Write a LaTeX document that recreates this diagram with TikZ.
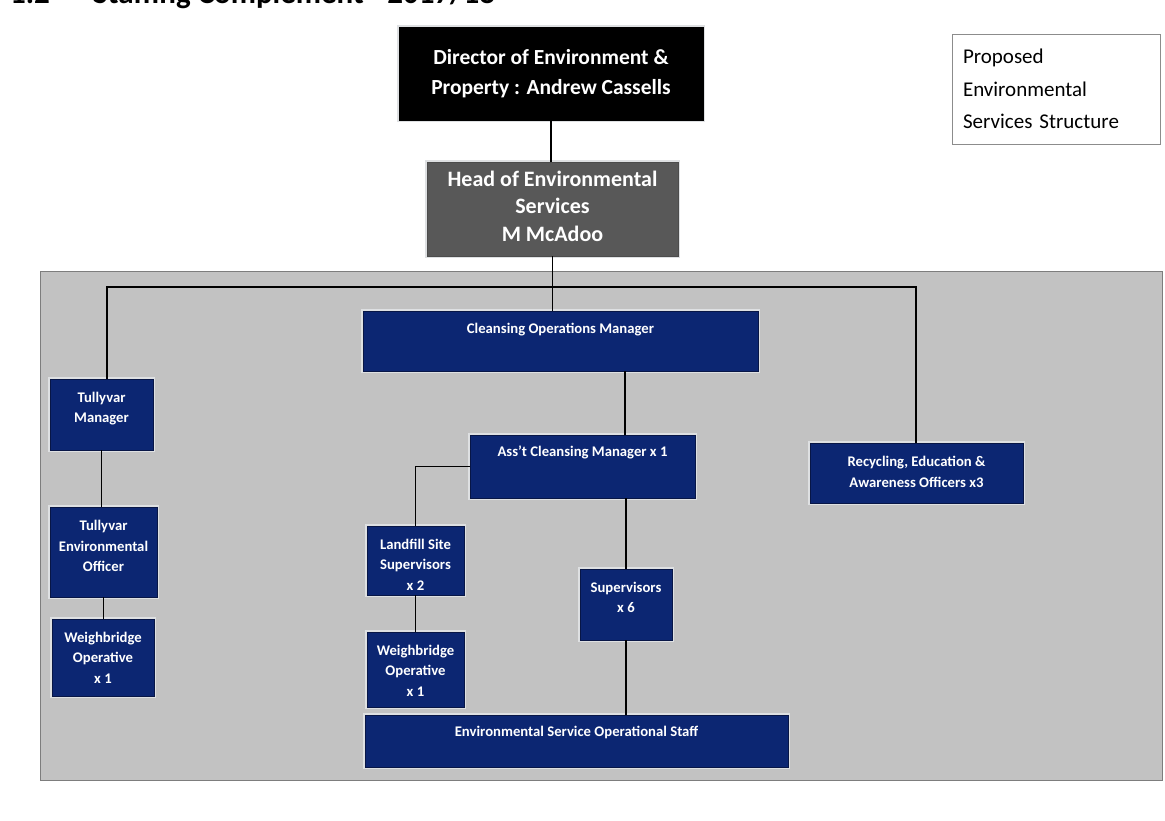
\documentclass[tikz,border=0pt]{standalone}
\usepackage{fontspec}
\setmainfont{Carlito}
\usetikzlibrary{calc}
\definecolor{navy}{RGB}{12,38,114}
\definecolor{navyedge}{RGB}{8,22,70}
\definecolor{panelgray}{RGB}{194,194,194}
\definecolor{paneledge}{RGB}{125,125,125}
\definecolor{headgray}{RGB}{88,88,88}
\definecolor{glow}{RGB}{222,224,226}
\begin{document}
\begin{tikzpicture}[x=1pt,y=-1pt,
  bluebox/.style={rectangle, fill=navy, draw=navyedge, line width=0.8pt, inner sep=0pt,
    preaction={draw=glow, line width=4pt}},
  boxtxt/.style={text=white, font=\bfseries\fontsize{14.7}{20.5}\selectfont, align=center, inner sep=0pt},
  link/.style={draw=black, line width=1.2pt},
  ]
\useasboundingbox (0,0) rectangle (1165,821);
\fill[white] (0,0) rectangle (1165,821);
\begin{scope}
  \clip (0,0) rectangle (1165,821);
  \node[anchor=base west, font=\bfseries\fontsize{31}{34}\selectfont, inner sep=0pt] (secnum) at (10,4) {1.2};
  \node[anchor=base west, font=\bfseries\fontsize{31}{34}\selectfont, inner sep=0pt] (sectitle) at (93,4) {Staffing Complement - 2017/18};
\end{scope}

% top boxes
\node[rectangle, fill=black, draw=black, minimum width=304pt, minimum height=93pt, inner sep=0pt,
      text=white, font=\bfseries\fontsize{21.5}{30}\selectfont, align=center,
      preaction={draw=glow, line width=4pt}] (dir) at (551,73.5)
      {Director of Environment \&\\Property : Andrew Cassells};
\node[rectangle, fill=headgray, draw=black!70, minimum width=251pt, minimum height=94pt, inner sep=0pt,
      text=white, font=\bfseries\fontsize{22}{27.5}\selectfont, align=center,
      preaction={draw=glow, line width=4pt},
      label={[text=white, font=\bfseries\fontsize{22}{27.5}\selectfont, align=center, inner sep=0pt, yshift=3pt]center:{Head of Environmental\\Services\\M McAdoo}}] (head) at (552.5,209)
      {};
\node[rectangle, fill=white, draw=black!45, line width=0.8pt, minimum width=208pt, minimum height=110pt,
      inner xsep=11pt, inner ysep=0pt, text width=186pt, align=left,
      font=\fontsize{21}{32.5}\selectfont] (prop) at (1056,89)
      {Proposed\\Environmental\\Services Structure};

% grey panel
\draw[fill=panelgray, draw=paneledge, line width=0.8pt] (40,271) rectangle (1162,780);

% blue boxes
\node[bluebox, minimum width=103pt, minimum height=71pt,
      label={[boxtxt, yshift=6pt]center:{Tullyvar\\Manager}}] (tm) at (101.5,414.5) {};
\node[bluebox, minimum width=107pt, minimum height=90pt,
      label={[boxtxt, yshift=6pt]center:{Tullyvar\\Environmental\\Officer}}] (teo) at (103.5,552) {};
\node[bluebox, minimum width=102pt, minimum height=77pt,
      label={[boxtxt]center:{Weighbridge\\Operative\\x 1}}] (wbl) at (103,657.5) {};
\node[bluebox, minimum width=395pt, minimum height=60pt,
      label={[boxtxt, yshift=11pt]center:{Cleansing Operations Manager}}] (com) at (560.5,341) {};
\node[bluebox, minimum width=225pt, minimum height=63pt,
      label={[boxtxt, yshift=14pt]center:{Ass’t Cleansing Manager x 1}}] (ass) at (582.5,466.5) {};
\node[bluebox, minimum width=97pt, minimum height=69pt,
      label={[boxtxt, yshift=-4pt]center:{Landfill Site\\Supervisors\\x 2}}] (lf) at (415.5,560.5) {};
\node[bluebox, minimum width=97pt, minimum height=75pt,
      label={[boxtxt, yshift=-1pt]center:{Weighbridge\\Operative\\x 1}}] (wbm) at (415.5,669.5) {};
\node[bluebox, minimum width=92pt, minimum height=71pt,
      label={[boxtxt, yshift=7pt]center:{Supervisors\\x 6}}] (sup) at (626,604.5) {};
\node[bluebox, minimum width=423pt, minimum height=52pt,
      label={[boxtxt, yshift=9pt]center:{Environmental Service Operational Staff}}] (staff) at (576.5,741) {};
\node[bluebox, minimum width=213pt, minimum height=60pt,
      label={[boxtxt, yshift=1pt]center:{Recycling, Education \&\\Awareness Officers x3}}] (rec) at (916.5,473) {};

% connectors
\coordinate (barL) at (107,287);
\coordinate (barR) at (916,287);
\coordinate (cx) at (625,0);
\draw[link] (dir.south) -- (dir.south |- head.north);
\draw[link] (head.south) -- (head.south |- com.north);
\draw[link] (barL |- tm.north) -- (barL) -- (barR) -- (barR |- rec.north);
\draw[link] (cx |- com.south) -- (cx |- ass.north);
\draw[link] (tm.south) -- (tm.south |- teo.north);
\draw[link] (teo.south) -- (teo.south |- wbl.north);
\draw[link] (ass.west) -| (lf.north);
\draw[link] (lf.south) -- (wbm.north);
\draw[link] (sup.north |- ass.south) -- (sup.north);
\draw[link] (sup.south) -- (sup.south |- staff.north);
\end{tikzpicture}
\end{document}
